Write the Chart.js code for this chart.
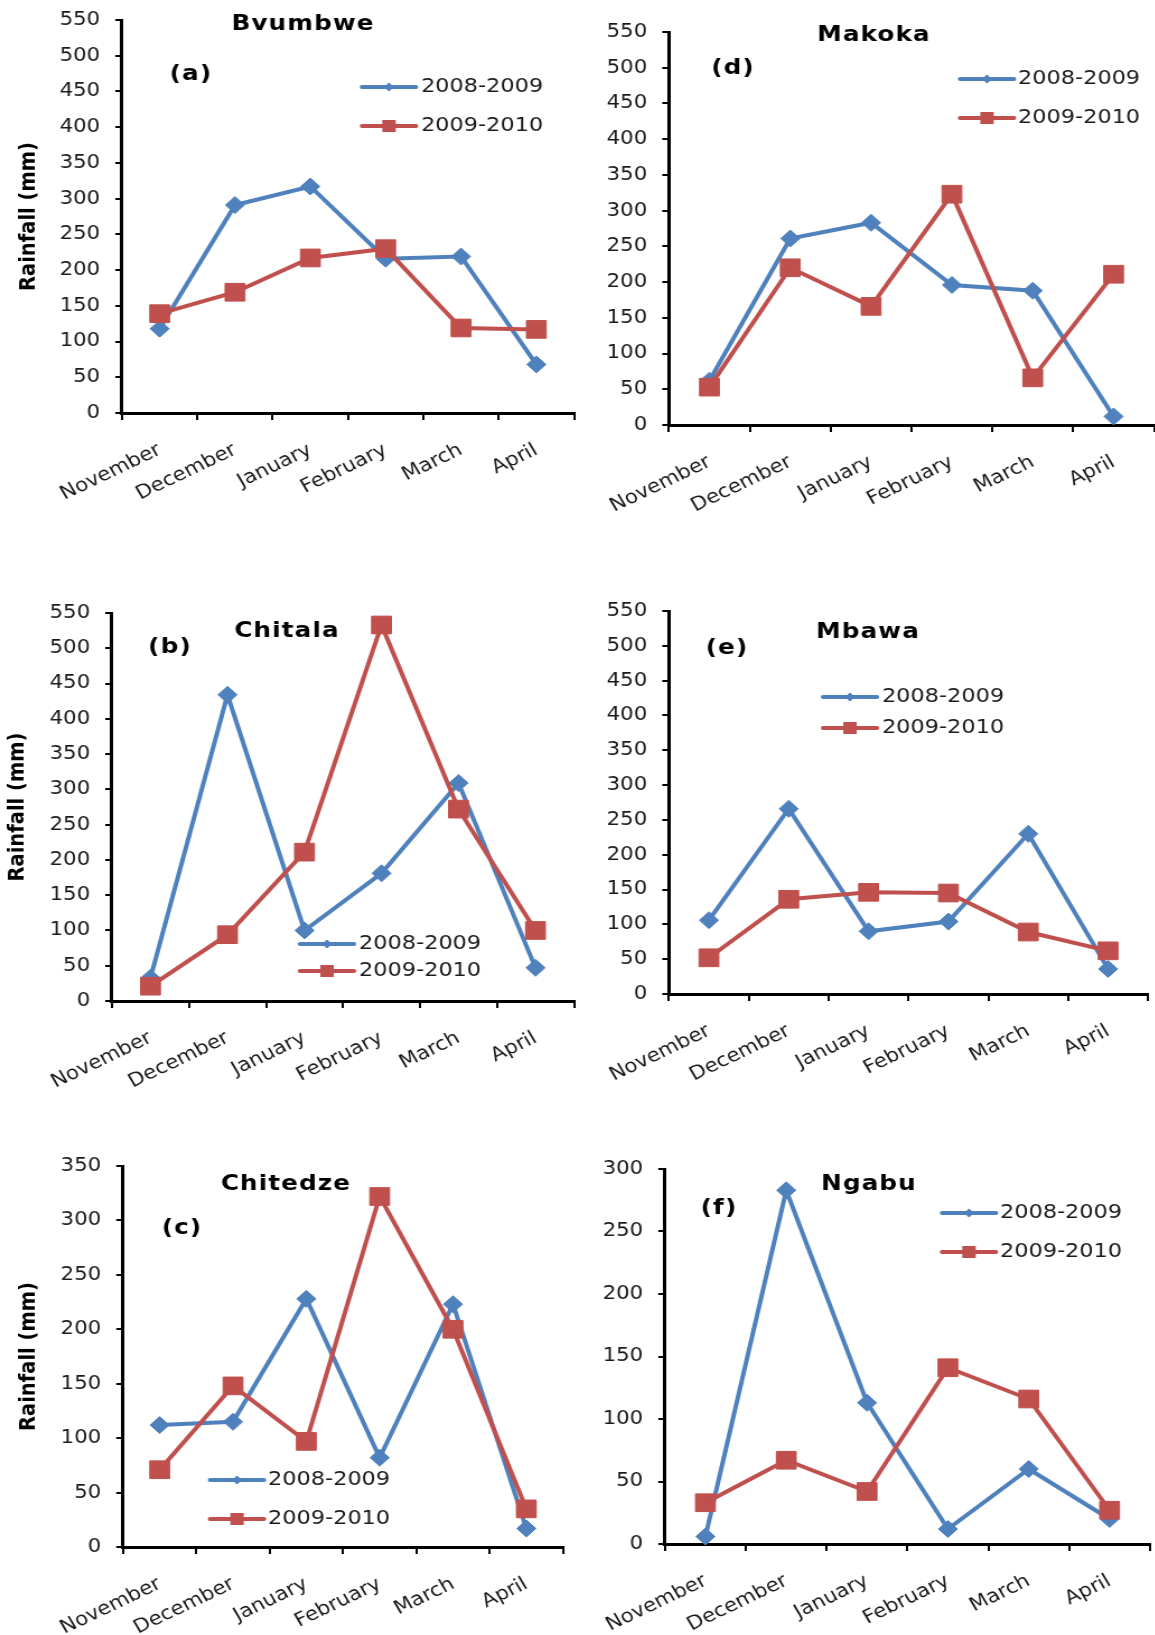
<!DOCTYPE html>
<html>
<head>
<meta charset="utf-8">
<title>Monthly rainfall by station</title>
<script src="https://cdn.jsdelivr.net/npm/chart.js@4.4.1/dist/chart.umd.min.js"></script>
<style>
  html, body { margin: 0; padding: 0; background: #fff; }
  body { width: 1155px; height: 1635px; position: relative; overflow: hidden; }
  .panel { position: absolute; transform-origin: 0 0; }
  canvas { display: block; }
</style>
</head>
<body>
<script>
// ---- data -------------------------------------------------------------
const months = ['November', 'December', 'January', 'February', 'March', 'April'];
const seasons = ['2008-2009', '2009-2010'];

const bvumbwe0809  = [118, 291, 317, 216, 219, 68];
const bvumbwe0910  = [139, 169, 217, 230, 119, 117];
const chitala0809  = [33, 434, 100, 181, 309, 47];
const chitala0910  = [21, 94, 211, 533, 272, 100];
const chitedze0809 = [112, 115, 228, 82, 223, 17];
const chitedze0910 = [71, 148, 97, 322, 200, 35];
const makoka0809   = [62, 261, 283, 196, 188, 12];
const makoka0910   = [53, 220, 166, 323, 66, 211];
const mbawa0809    = [106, 266, 90, 104, 230, 36];
const mbawa0910    = [52, 136, 146, 145, 89, 62];
const ngabu0809    = [6, 283, 113, 12, 60, 20];
const ngabu0910    = [33, 67, 42, 141, 116, 27];

const yAxisMax = { Bvumbwe: 550, Chitala: 550, Chitedze: 350, Makoka: 550, Mbawa: 550, Ngabu: 300 };
const yStep = 50;
const yTitleText = 'Rainfall (mm)';

// ---- styling & layout -------------------------------------------------
const SX = 1.12;                 // the figure is drawn slightly wider than tall
const BLUE = '#4F81BD';
const RED = '#C0504D';
const FONT = 'DejaVu Sans';

// page-space geometry of each panel (box = canvas placement, area = plot area)
const panels = [
  { station: 'Bvumbwe', tag: '(a)', s1: bvumbwe0809, s2: bvumbwe0910, yTitle: true, yTitleX: 29.5,
    box: { L: 0, T: 0, W: 578, H: 560 }, area: { l: 122, r: 574, t: 20, b: 413 },
    titleAt: [303, 24], tagAt: [191, 74], legend: { x1: 362, x2: 416, y: [87, 126], tx: 421 } },
  { station: 'Makoka', tag: '(d)', s1: makoka0809, s2: makoka0910, yTitle: false,
    box: { L: 580, T: 0, W: 575, H: 560 }, area: { l: 669, r: 1154, t: 32, b: 425 },
    titleAt: [874, 35], tagAt: [733, 68], legend: { x1: 960, x2: 1014, y: [79, 118], tx: 1018 } },
  { station: 'Chitala', tag: '(b)', s1: chitala0809, s2: chitala0910, yTitle: true, yTitleX: 18,
    box: { L: 0, T: 560, W: 578, H: 560 }, area: { l: 112, r: 574, t: 613, b: 1001 },
    titleAt: [287, 631], tagAt: [170, 647], legend: { x1: 300, x2: 354, y: [944, 971], tx: 359 } },
  { station: 'Mbawa', tag: '(e)', s1: mbawa0809, s2: mbawa0910, yTitle: false,
    box: { L: 580, T: 560, W: 575, H: 560 }, area: { l: 669, r: 1148, t: 611, b: 994 },
    titleAt: [868, 632], tagAt: [727, 648], legend: { x1: 823, x2: 877, y: [697, 728], tx: 882 } },
  { station: 'Chitedze', tag: '(c)', s1: chitedze0809, s2: chitedze0910, yTitle: true, yTitleX: 29,
    box: { L: 0, T: 1120, W: 578, H: 515 }, area: { l: 123, r: 563, t: 1166, b: 1547 },
    titleAt: [286, 1184], tagAt: [182, 1228], legend: { x1: 210, x2: 264, y: [1480, 1519], tx: 268 } },
  { station: 'Ngabu', tag: '(f)', s1: ngabu0809, s2: ngabu0910, yTitle: false,
    box: { L: 580, T: 1120, W: 575, H: 515 }, area: { l: 665, r: 1150, t: 1169, b: 1544 },
    titleAt: [869, 1184], tagAt: [719, 1208], legend: { x1: 942, x2: 996, y: [1213, 1252], tx: 1000 } }
];

// station name, panel letter and the little legend, drawn over each plot
const panelText = {
  id: 'panelText',
  afterDraw(chart, args, o) {
    const ctx = chart.ctx;
    const px = x => (x - o.L) / SX;
    const py = y => y - o.T;
    ctx.save();
    ctx.fillStyle = '#000';
    ctx.textBaseline = 'middle';
    ctx.textAlign = 'center';
    ctx.font = `bold 22px "${FONT}"`;
    if ('letterSpacing' in ctx) ctx.letterSpacing = '1px';
    ctx.fillText(o.station, px(o.titleAt[0]), py(o.titleAt[1]));
    ctx.fillText(o.tag, px(o.tagAt[0]), py(o.tagAt[1]));
    if ('letterSpacing' in ctx) ctx.letterSpacing = '0px';

    const lg = o.legend;
    const colors = [BLUE, RED];
    seasons.forEach((name, i) => {
      const y = py(lg.y[i]);
      const x1 = px(lg.x1), x2 = px(lg.x2), xm = (x1 + x2) / 2;
      ctx.strokeStyle = colors[i];
      ctx.lineWidth = 4;
      ctx.lineCap = 'round';
      ctx.beginPath(); ctx.moveTo(x1, y); ctx.lineTo(x2, y); ctx.stroke();
      ctx.fillStyle = colors[i];
      ctx.beginPath();
      if (i === 0) {
        const r = 4.5;
        ctx.moveTo(xm, y - r); ctx.lineTo(xm + r, y); ctx.lineTo(xm, y + r); ctx.lineTo(xm - r, y);
        ctx.closePath();
      } else {
        const h = 6;
        ctx.rect(xm - h, y - h, 2 * h, 2 * h);
      }
      ctx.fill();
      ctx.fillStyle = '#1a1a1a';
      ctx.textAlign = 'left';
      ctx.font = `20px "${FONT}"`;
      ctx.fillText(name, px(lg.tx), y);
    });
    ctx.restore();
  }
};

panels.forEach(p => {
  const { L, T, W, H } = p.box;
  const a = p.area;
  const wi = Math.round(W / SX);

  const holder = document.createElement('div');
  holder.className = 'panel';
  holder.style.left = L + 'px';
  holder.style.top = T + 'px';
  holder.style.width = wi + 'px';
  holder.style.height = H + 'px';
  holder.style.transform = `scaleX(${SX})`;
  const canvas = document.createElement('canvas');
  canvas.width = wi;
  canvas.height = H;
  holder.appendChild(canvas);
  document.body.appendChild(holder);

  const yAxisWidth = (a.l - L) / SX;
  const xAxisHeight = H - (a.b - T);
  const yTitleLine = 19.5 * 1.2;

  new Chart(canvas, {
    type: 'line',
    data: {
      labels: months,
      datasets: [
        { label: seasons[0], data: p.s1, borderColor: BLUE, backgroundColor: BLUE,
          pointBorderColor: BLUE, pointBackgroundColor: BLUE, borderWidth: 4,
          pointStyle: 'rectRot', pointRadius: 8.5, pointBorderWidth: 1, tension: 0, order: 1, clip: false },
        { label: seasons[1], data: p.s2, borderColor: RED, backgroundColor: RED,
          pointBorderColor: RED, pointBackgroundColor: RED, borderWidth: 4,
          pointStyle: 'rect', pointRadius: 12.5, pointBorderWidth: 1, tension: 0, order: 0, clip: false }
      ]
    },
    options: {
      responsive: false,
      animation: false,
      devicePixelRatio: 1,
      events: [],
      layout: {
        autoPadding: false,
        padding: { left: 0, top: a.t - T, right: wi - (a.r - L) / SX, bottom: 0 }
      },
      plugins: {
        legend: { display: false },
        tooltip: { enabled: false },
        panelText: { ...p, L, T }
      },
      scales: {
        x: {
          type: 'category',
          offset: true,
          grid: { offset: true, drawOnChartArea: false, drawTicks: true, tickLength: 7, color: '#000', lineWidth: 2 },
          border: { color: '#000', width: 3 },
          ticks: { minRotation: 28, maxRotation: 28, autoSkip: false, padding: 19, color: '#1a1a1a',
                   font: { family: FONT, size: 19 } },
          afterFit: s => { s.height = xAxisHeight; s.paddingLeft = 0; s.paddingRight = 0; }
        },
        y: {
          min: 0,
          max: yAxisMax[p.station],
          ticks: { stepSize: yStep, padding: 13.5, color: '#1a1a1a', font: { family: FONT, size: 19 } },
          grid: { drawOnChartArea: false, drawTicks: true, tickLength: 6, color: '#000', lineWidth: 2 },
          border: { color: '#000', width: 3 },
          title: {
            display: p.yTitle,
            text: yTitleText,
            color: '#000',
            font: { family: FONT, size: 19.5, weight: 'bold' },
            padding: { top: p.yTitle ? p.yTitleX / SX - yTitleLine / 2 : 0, bottom: 0 }
          },
          afterFit: s => { s.width = yAxisWidth; s.paddingTop = 0; s.paddingBottom = 0; }
        }
      }
    },
    plugins: [panelText]
  });
});
</script>
</body>
</html>
